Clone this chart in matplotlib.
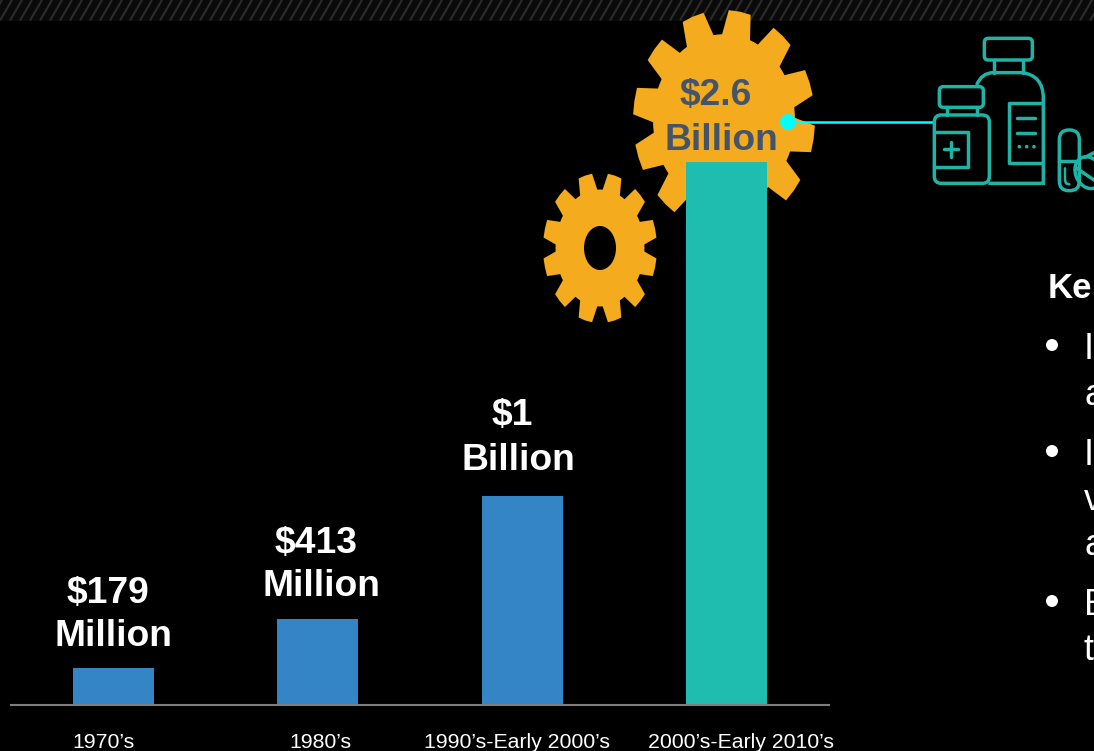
import numpy as np
import matplotlib
matplotlib.use('Agg')
import matplotlib.pyplot as plt
from matplotlib.patches import Polygon, Ellipse, FancyBboxPatch, Circle, Rectangle
from matplotlib.path import Path
from matplotlib.patches import PathPatch

plt.rcParams['font.family'] = ['Liberation Sans', 'DejaVu Sans']

# Cost of bringing a drug to market, in millions of dollars
periods = ["1970\u2019s", "1980\u2019s", "1990\u2019s-Early 2000\u2019s", "2000\u2019s-Early 2010\u2019s"]
cost_millions = [179, 413, 1000, 2600]
cost_amounts = ["$179", "$413", "$1", "$2.6"]
cost_units = ["Million", "Million", "Billion", "Billion"]

BLUE = '#3385c6'
TEAL = '#1fbcb0'
ICON = '#1fb3a6'
GOLD = '#f4ab1e'
SLATE = '#44546a'
CYAN = '#00ffff'

W, H = 1094, 751
fig = plt.figure(figsize=(W / 100, H / 100), dpi=100, facecolor='black')

# Backdrop layer in pixel coordinates (y pointing down)
deco = fig.add_axes([0, 0, 1, 1], zorder=0)
deco.set_xlim(0, W)
deco.set_ylim(H, 0)
deco.axis('off')
deco.set_facecolor('black')


def gear_outline(cx, cy, rx, ry, offset, teeth=12, root=0.78):
    # Walk round the wheel, one tapered tooth at a time
    pitch = 360 / teeth
    pts = []
    for k in range(teeth):
        a = offset + k * pitch
        tip = [a - 7, a, a + 7]
        gap = np.linspace(a + 11.5, a + pitch - 11.5, 3)
        seq = [(t, 1.0) for t in tip] + [(g, root) for g in gap]
        for ang, r in seq:
            t = np.radians(ang)
            pts.append((cx + rx * r * np.sin(t), cy - ry * r * np.cos(t)))
    return pts


# Hatched strip along the top edge
deco.add_patch(Rectangle((0, 0), W, 20.5, color='#0a0a0a', lw=0, zorder=1))
strip = Rectangle((0, 0), W, 20.5, transform=deco.transData)
for x0 in np.arange(-20, W + 20, 10):
    ln, = deco.plot([x0, x0 + 12], [20.5, 0], color='#2c2c2c', lw=1.5, zorder=2, solid_capstyle='butt')
    ln.set_clip_path(strip)

# Gears
deco.add_patch(Polygon(gear_outline(724, 120, 91, 110, 10), closed=True, color=GOLD, lw=0, zorder=3))
deco.add_patch(Polygon(gear_outline(600, 248, 57, 75, 15), closed=True, color=GOLD, lw=0, zorder=3))
deco.add_patch(Ellipse((600, 248), 32, 44, color='black', lw=0, zorder=4))

# Connector from the top gear to the medicine icon
deco.plot([788, 934], [122, 122], color=CYAN, lw=1.8, zorder=5)
deco.add_patch(Circle((788, 122), 8, color=CYAN, lw=0, zorder=6))


# Medicine icon, laid out on a 3x grid then scaled down
def ix(v):
    return 900 + v / 3


def iy(v):
    return v / 3


def icon_line(xs, ys, lw=2.5):
    deco.plot([ix(v) for v in xs], [iy(v) for v in ys], color=ICON, lw=lw, zorder=5, solid_capstyle='round')


def icon_box(x0, y0, x1, y1, pad):
    deco.add_patch(FancyBboxPatch((ix(x0) + pad, iy(y0) + pad), (x1 - x0) / 3 - 2 * pad, (y1 - y0) / 3 - 2 * pad,
                                  boxstyle=f'round,pad={pad},rounding_size={pad}', fill=False,
                                  edgecolor=ICON, lw=2.5, zorder=5))


# large bottle
icon_box(253, 115, 397, 180, 4)
icon_line([282, 282], [180, 218])
icon_line([370, 370], [180, 218])
verts = [(230, 255), (245, 218), (280, 218), (365, 218), (430, 225), (430, 295),
         (430, 550), (265, 550)]
codes = [Path.MOVETO, Path.CURVE3, Path.CURVE3, Path.LINETO, Path.CURVE3, Path.CURVE3, Path.LINETO, Path.LINETO]
deco.add_patch(PathPatch(Path([(ix(a), iy(b)) for a, b in verts], codes), fill=False,
                         edgecolor=ICON, lw=2.5, zorder=5))
icon_line([430, 328, 328, 430], [310, 310, 488, 488])
icon_line([352, 405], [355, 355])
icon_line([352, 405], [398, 398])
for dot_x in [358, 380, 402]:
    deco.add_patch(Circle((ix(dot_x), iy(440)), 1.8, color=ICON, lw=0, zorder=5))

# small bottle
icon_box(118, 260, 250, 322, 4)
icon_line([140, 140], [322, 345])
icon_line([232, 232], [322, 345])
icon_box(103, 345, 268, 550, 7)
icon_line([103, 205, 205, 103], [397, 397, 502, 502])
icon_line([153, 153], [425, 472])
icon_line([132, 175], [448, 448])

# capsule and tablets
icon_box(478, 390, 538, 572, 9.5)
icon_line([478, 538], [482, 482])
icon_line([495, 495, 498, 508], [505, 540, 550, 553], lw=1.8)
deco.add_patch(Ellipse((ix(566), iy(518)), 26, 33, angle=-25, fill=False, edgecolor=ICON, lw=2.5, zorder=5))
icon_line([530, 582], [505, 540])
icon_line([555, 582], [472, 458])

# Bars on their own axes so their heights come from the data
ax = fig.add_axes([11 / W, (H - 705) / H, 818 / W, (705 - 162) / H], zorder=1)
ax.patch.set_alpha(0)
ax.set_xlim(-0.5, 3.5)
ax.set_ylim(0, 2600)
bar_colors = [BLUE, BLUE, BLUE, TEAL]
ax.bar(range(len(periods)), cost_millions, width=0.397, color=bar_colors)
for side in ['top', 'left', 'right']:
    ax.spines[side].set_visible(False)
ax.spines['bottom'].set_color('#7f7f7f')
ax.spines['bottom'].set_linewidth(1.5)
ax.set_xticks([])
ax.set_yticks([])

# Period captions and value labels
period_x = [103, 320, 517, 741]
for x, label in zip(period_x, periods):
    ax.text(x, 743, label, transform=deco.transData, color='white', fontsize=15.3, ha='center', va='center')

amount_pos = [(108, 593), (316, 543), (512, 415), (716, 95)]
unit_pos = [(113, 637), (321, 587), (518, 460), (721, 140)]
label_colors = ['white', 'white', 'white', SLATE]
for i in range(len(cost_amounts)):
    ax.text(*amount_pos[i], cost_amounts[i], transform=deco.transData, color=label_colors[i],
            fontsize=26.8, fontweight='bold', ha='center', va='center')
    ax.text(*unit_pos[i], cost_units[i], transform=deco.transData, color=label_colors[i],
            fontsize=26.8, fontweight='bold', ha='center', va='center')

# Side panel, running off the right edge
ax.text(1048, 298, "Ke", transform=deco.transData, color='white', fontsize=25, fontweight='bold', va='baseline')
panel_lines = [("I", 359), ("a", 405), ("I", 465), ("v", 510), ("a", 555), ("B", 615), ("t", 660)]
for letter, y in panel_lines:
    ax.text(1084, y, letter, transform=deco.transData, color='white', fontsize=26, va='baseline')
for y in [345, 451, 601]:
    deco.add_patch(Circle((1052, y), 6, color='white', lw=0, zorder=5))

fig.savefig('out.png', dpi=100, facecolor='black')
